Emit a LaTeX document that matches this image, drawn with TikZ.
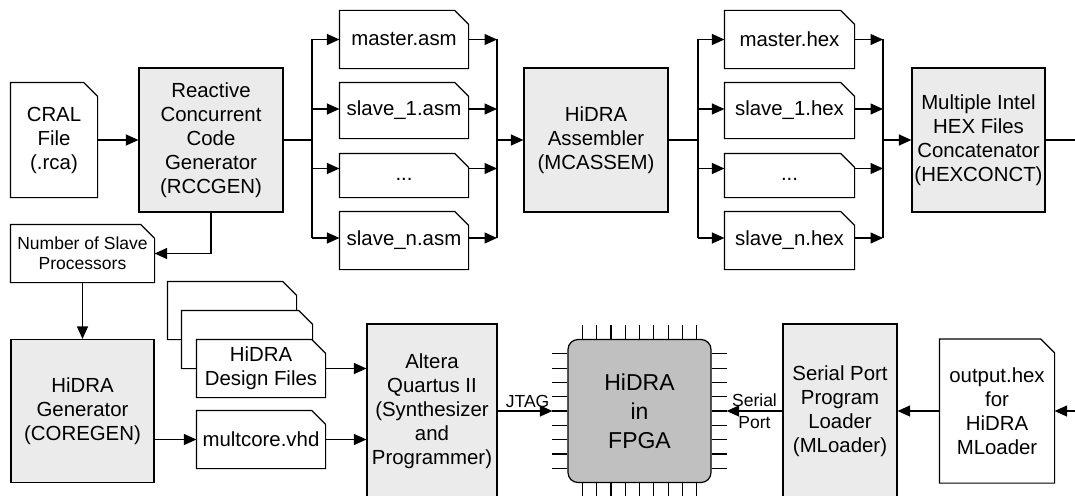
\documentclass[tikz,border=0pt]{standalone}
\usepackage{fontspec}
\setmainfont{Liberation Sans}
\usetikzlibrary{arrows.meta}

\definecolor{procgray}{HTML}{EBEBEB}
\definecolor{chipgray}{HTML}{C0C0C0}

\newcommand\fmain{\fontsize{20.4pt}{24pt}\selectfont}
\newcommand\fsmall{\fontsize{17.5pt}{20pt}\selectfont}
\newcommand\fchip{\fontsize{23pt}{29pt}\selectfont}

% A document symbol: a rectangle whose upper right corner is cut off
\makeatletter
\newdimen\docfold
\docfold=14pt
\pgfdeclareshape{docfile}{%
  \inheritsavedanchors[from=rectangle]%
  \inheritanchorborder[from=rectangle]%
  \inheritanchor[from=rectangle]{center}%
  \inheritanchor[from=rectangle]{north}%
  \inheritanchor[from=rectangle]{south}%
  \inheritanchor[from=rectangle]{east}%
  \inheritanchor[from=rectangle]{west}%
  \inheritanchor[from=rectangle]{north east}%
  \inheritanchor[from=rectangle]{north west}%
  \inheritanchor[from=rectangle]{south east}%
  \inheritanchor[from=rectangle]{south west}%
  \inheritanchor[from=rectangle]{mid}%
  \inheritanchor[from=rectangle]{base}%
  \backgroundpath{%
    \southwest \pgf@xa=\pgf@x \pgf@ya=\pgf@y
    \northeast \pgf@xb=\pgf@x \pgf@yb=\pgf@y
    \pgf@xc=\pgf@xb \advance\pgf@xc by -\docfold
    \pgf@yc=\pgf@yb \advance\pgf@yc by -\docfold
    \pgfpathmoveto{\pgfqpoint{\pgf@xa}{\pgf@ya}}%
    \pgfpathlineto{\pgfqpoint{\pgf@xa}{\pgf@yb}}%
    \pgfpathlineto{\pgfqpoint{\pgf@xc}{\pgf@yb}}%
    \pgfpathlineto{\pgfqpoint{\pgf@xb}{\pgf@yc}}%
    \pgfpathlineto{\pgfqpoint{\pgf@xb}{\pgf@ya}}%
    \pgfpathclose
  }%
}
\makeatother

\tikzset{
  proc/.style={rectangle, draw, fill=procgray, inner sep=0pt, align=center, font=\fmain},
  doc/.style={shape=docfile, draw, fill=white, inner sep=0pt, align=center, font=\fmain},
  arr/.style={-{Triangle[length=12.5pt,width=11pt]}},
}

\begin{document}
\begin{tikzpicture}[x=1pt, y=-1pt, line width=1.2pt]
\useasboundingbox (0,0) rectangle (1075,495);
\fill[white] (0,0) rectangle (1075,495);
\clip (0,0) rectangle (1075,495);

% ---------- upper row ----------
\node[doc, minimum width=86pt, minimum height=114pt] (cral) at (54,140) {CRAL\\File\\(.rca)};
\node[proc, minimum width=144pt, minimum height=144pt] (rccgen) at (211,140)
  {Reactive\\Concurrent\\Code\\Generator\\(RCCGEN)};

\node[doc, minimum width=128pt, minimum height=57pt] (masm)  at (404,39.5)  {master.asm};
\node[doc, minimum width=128pt, minimum height=55pt] (s1asm) at (404,110.5) {slave\_1.asm};
\node[doc, minimum width=128pt, minimum height=43pt] (dasm)  at (404,175.5) {\strut...};
\node[doc, minimum width=128pt, minimum height=57pt] (snasm) at (404,240.5) {slave\_n.asm};

\node[proc, minimum width=144pt, minimum height=144pt] (mcassem) at (596,140)
  {HiDRA\\Assembler\\(MCASSEM)};

\node[doc, minimum width=129pt, minimum height=57pt] (mhex)  at (789.5,39.5)  {master.hex};
\node[doc, minimum width=129pt, minimum height=55pt] (s1hex) at (789.5,110.5) {slave\_1.hex};
\node[doc, minimum width=129pt, minimum height=43pt] (dhex)  at (789.5,175.5) {\strut...};
\node[doc, minimum width=129pt, minimum height=57pt] (snhex) at (789.5,240.5) {slave\_n.hex};

\node[proc, minimum width=133pt, minimum height=144pt] (hexc) at (978.5,140)
  {Multiple Intel\\HEX Files\\Concatenator\\(HEXCONCT)};

% fan-out / fan-in points
\coordinate (sa)  at (312,140);
\coordinate (sa1) at (312,39.5);
\coordinate (sa2) at (312,109);
\coordinate (sa3) at (312,168.5);
\coordinate (sa4) at (312,238);
\coordinate (ma)  at (497,140);
\coordinate (ma1) at (497,39.5);
\coordinate (ma2) at (497,109);
\coordinate (ma3) at (497,168.5);
\coordinate (ma4) at (497,238);
\coordinate (sb)  at (698,140);
\coordinate (sb1) at (698,39.5);
\coordinate (sb2) at (698,109);
\coordinate (sb3) at (698,168.5);
\coordinate (sb4) at (698,238);
\coordinate (mb)  at (883,140);
\coordinate (mb1) at (883,39.5);
\coordinate (mb2) at (883,109);
\coordinate (mb3) at (883,168.5);
\coordinate (mb4) at (883,238);
\coordinate (outR) at (1075,140);

\draw[arr] (cral) -- (rccgen);
\draw (rccgen.east) -- (sa);
\draw (sa1) -- (sa4);
\foreach \r/\n in {1/masm,2/s1asm,3/dasm,4/snasm}{
  \draw[arr] (sa\r) -- (\n.west |- sa\r);
  \draw[arr] (\n.east |- ma\r) -- (ma\r);
}
\draw (ma1) -- (ma4);
\draw[arr] (ma) -- (mcassem);

\draw (mcassem.east) -- (sb);
\draw (sb1) -- (sb4);
\foreach \r/\n in {1/mhex,2/s1hex,3/dhex,4/snhex}{
  \draw[arr] (sb\r) -- (\n.west |- sb\r);
  \draw[arr] (\n.east |- mb\r) -- (mb\r);
}
\draw (mb1) -- (mb4);
\draw[arr] (mb) -- (hexc);
\draw (hexc) -- (outR);

% ---------- lower row ----------
\node[doc, minimum width=143pt, minimum height=57pt, font=\fsmall] (nsp) at (82.5,253.5)
  {Number of Slave\\Processors};
\node[proc, minimum width=143pt, minimum height=143pt] (coregen) at (82.5,411)
  {HiDRA\\Generator\\(COREGEN)};

\node[doc, minimum width=128pt, minimum height=57pt] (dfback)  at (232,310.5) {};
\node[doc, minimum width=130pt, minimum height=57pt] (dfmid)   at (247,339.5) {};
\node[doc, minimum width=128pt, minimum height=57pt] (dffront) at (261,368.5) {HiDRA\\Design Files};
\node[doc, minimum width=128pt, minimum height=57pt] (vhd)     at (261,439.5) {multcore.vhd};

\node[proc, minimum width=130pt, minimum height=174pt] (quartus) at (432,411)
  {Altera\\Quartus II\\(Synthesizer\\and\\Programmer)};

\node[rectangle, rounded corners=10pt, draw, fill=chipgray, inner sep=0pt, align=center,
  font=\fchip, minimum width=143pt, minimum height=143pt] (fpga) at (639.5,411) {HiDRA\\in\\FPGA};
\foreach \k in {-4,...,4}{
  \draw ([xshift=\k*14.3pt]fpga.north) -- ++(0,-14);
  \draw ([xshift=\k*14.3pt]fpga.south) -- ++(0,14);
  \draw ([yshift=\k*14.3pt]fpga.west) -- ++(-15,0);
  \draw ([yshift=\k*14.3pt]fpga.east) -- ++(15,0);
}
\coordinate (fpgaL) at ([xshift=-15pt]fpga.west);
\coordinate (fpgaR) at ([xshift=15pt]fpga.east);

\node[proc, minimum width=114pt, minimum height=174pt] (loader) at (840,411)
  {Serial Port\\Program\\Loader\\(MLoader)};
\node[doc, minimum width=114pt, minimum height=143pt] (outhex) at (997,411)
  {output.hex\\for\\HiDRA\\MLoader};
\coordinate (inR) at (1075,411);

\draw[arr] (rccgen.south) |- (nsp.east);
\draw[arr] (nsp) -- (coregen);
\draw[arr] (coregen.east |- vhd) -- (vhd);
\draw[arr] (dffront) -- (quartus.west |- dffront);
\draw[arr] (vhd) -- (quartus.west |- vhd);
\draw[arr] (quartus) -- (fpgaL)
  node[pos=1, above left, inner sep=2.5pt, font=\fsmall] {JTAG};
\draw[arr] (loader) -- (fpgaR)
  node[midway, above, inner sep=4pt, font=\fsmall] {Serial}
  node[midway, below, inner sep=5pt, font=\fsmall] {Port};
\draw[arr] (outhex) -- (loader);
\draw[arr] (inR) -- (outhex);
\end{tikzpicture}
\end{document}
